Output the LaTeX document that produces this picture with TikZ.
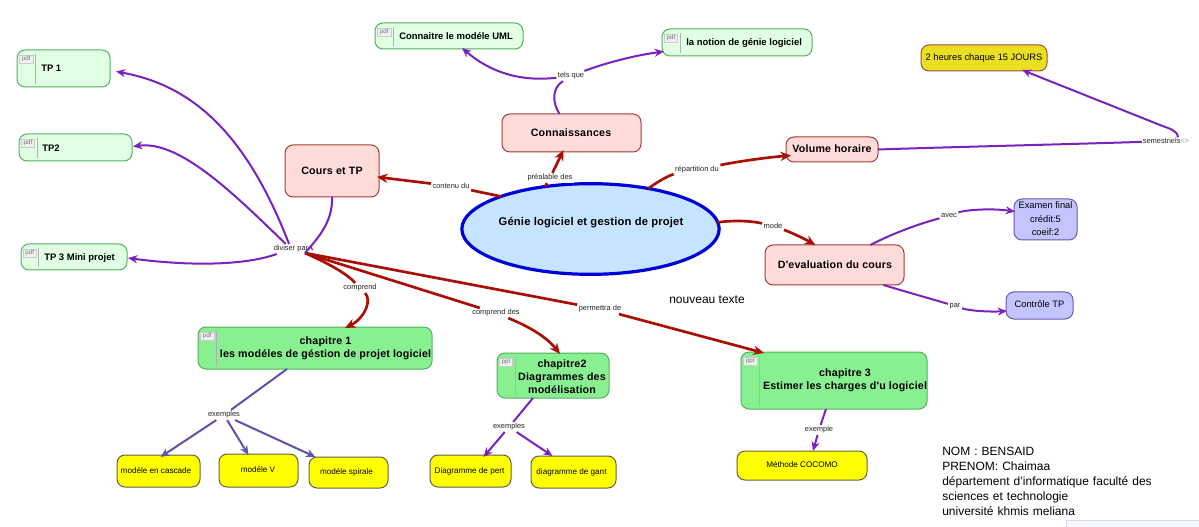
\documentclass[tikz,border=0pt]{standalone}
\usepackage{fontspec}
\setmainfont{Liberation Sans}
\newfontfamily\spacedb[LetterSpace=1.7]{Liberation Sans}
\usetikzlibrary{arrows.meta,calc,shapes.geometric}
\definecolor{purp}{HTML}{7A22BE}
\definecolor{dred}{HTML}{A90F05}
\definecolor{blv}{HTML}{5A55AC}
\definecolor{mint}{HTML}{E0FFE3}
\definecolor{mintl}{HTML}{55B060}
\definecolor{greenf}{HTML}{88F090}
\definecolor{pinkf}{HTML}{FFDCDA}
\definecolor{pinkl}{HTML}{A83A3A}
\definecolor{lilac}{HTML}{C4C4FF}
\definecolor{lilacl}{HTML}{6A5AA8}
\definecolor{ell}{HTML}{C4E4FF}
\definecolor{ylw}{HTML}{FFFF00}
\definecolor{ylwd}{HTML}{EBE020}
\tikzset{
  x=0.75pt,y=-0.75pt,
  base/.style={rectangle,rounded corners=6pt,line width=0.75pt,outer sep=0pt,inner sep=0pt,align=center},
  tabbed/.style={base,draw=mintl,fill=mint},
  chap/.style={base,draw=mintl,fill=greenf},
  pinkbox/.style={base,draw=pinkl,fill=pinkf},
  lilacbox/.style={base,draw=lilacl,fill=lilac},
  yellowbox/.style={base,draw=black!70!yellow,fill=ylw},
  goldbox/.style={base,draw=pinkl!70!gray,fill=ylwd},
  bt/.style={font=\fontsize{7.1}{9}\selectfont\bfseries,inner sep=0pt,align=center},
  pt/.style={font=\spacedb\fontsize{8}{9.8}\selectfont\bfseries,inner sep=0pt,align=center},
  smallt/.style={font=\fontsize{6.1}{8}\selectfont,inner sep=0pt},
  lbl/.style={font=\fontsize{5.6}{7}\selectfont,text=black!85,fill=white,fill opacity=0.85,text opacity=1,inner sep=1pt},
  plain/.style={font=\fontsize{9}{11.25}\selectfont,inner sep=0pt,align=left},
  midt/.style={font=\fontsize{7}{10.1}\selectfont,inner sep=0pt,align=center},
  purpc/.style={draw=purp,line width=1.5pt},
  purpa/.style={purpc,-{Stealth[length=7pt,width=6pt]}},
  redc/.style={draw=dred,line width=2pt},
  reda/.style={redc,-{Stealth[length=8pt,width=7pt]}},
  bluc/.style={draw=blv,line width=1.5pt},
  blua/.style={bluc,-{Stealth[length=7pt,width=6pt]}},
  tabt/.style={draw=black!20,fill=black!6,font=\fontsize{4.6}{5}\selectfont,text=black!55,inner sep=0.8pt,minimum width=10pt,minimum height=6pt},
}
\newcommand{\bx}[7]{%
  \pgfmathsetmacro\cxx{(#2+#4)/2}\pgfmathsetmacro\cyy{(#3+#5)/2}%
  \pgfmathsetmacro\wdd{(#4-#2)*0.75}\pgfmathsetmacro\htt{(#5-#3)*0.75}%
  \node[#6,minimum width=\wdd pt,minimum height=\htt pt] (#1) at (\cxx,\cyy) {#7};}
\newcommand{\tabmark}[3]{%
  \draw[black!30,line width=0.5pt] ($(#1.north west)+(#2,4)$) -- ($(#1.south west)+(#2,-3)$);
  \node[tabt] (#1tab) at ($(#1.north west)+(#2/2,9)$) {#3};}
\begin{document}
\begin{tikzpicture}
\useasboundingbox (0,0) rectangle (1199,527);
\fill[white] (0,0) rectangle (1199,527);
% bottom-right fragment
\path[fill=blue!3,draw=blue!15,line width=0.5pt] (1066,520.5) rectangle (1199,527);

% nodes
\bx{tpa}{17}{50}{110}{87}{tabbed}{}
\bx{tpb}{19}{134}{132}{161}{tabbed}{}
\bx{tpc}{21}{244}{127}{270}{tabbed}{}
\tabmark{tpa}{18.5}{pdf}\tabmark{tpb}{18}{pdf}\tabmark{tpc}{17.5}{pdf}
\node[bt,anchor=west] (tpat) at (41,68) {TP 1};
\node[bt,anchor=west] (tpbt) at (42,148) {TP2};
\node[bt,anchor=west] (tpct) at (44,258) {TP 3 Mini projet};

\bx{uml}{375}{23}{523}{49}{tabbed}{}
\bx{gl}{662}{29}{812}{56}{tabbed}{}
\tabmark{uml}{18.5}{pdf}\tabmark{gl}{18}{pdf}
\node[bt,anchor=west] (umlt) at (399,36.5) {Connaitre le modéle UML};
\node[bt,anchor=west] (glt) at (686,43) {la notion de génie logiciel};

\bx{cours}{285}{145}{379}{197}{pinkbox}{}
\node[pt] (courst) at (332,171) {Cours et TP};
\bx{conn}{502}{114}{641}{152}{pinkbox}{}
\node[pt] (connt) at (571,133) {Connaissances};
\bx{vol}{786}{137}{878}{162}{pinkbox}{}
\node[pt] (volt) at (832,149) {Volume horaire};
\bx{eval}{765}{245}{904}{285}{pinkbox}{}
\node[pt] (evalt) at (835,265) {D'evaluation du cours};

\node[ellipse,draw=blue!85!black,fill=ell,line width=2.4pt,minimum width=193pt,minimum height=68pt,inner sep=0pt,outer sep=0pt] (gen) at (590.5,229) {};
\node[pt,font=\spacedb\fontsize{8.4}{10}\selectfont\bfseries] (gent) at (591,223) {Génie logiciel et gestion de projet};

\bx{exam}{1014}{199}{1077}{240}{lilacbox}{}
\node[midt] (examt) at (1045.5,219) {Examen final\\crédit:5\\coeif:2};
\bx{ctp}{1006}{292}{1073}{319}{lilacbox}{}
\node[midt] (ctpt) at (1039.5,304.5) {Contrôle TP};
\bx{heures}{921}{45}{1047}{71}{goldbox}{}
\node[midt] (heurest) at (984,58) {2 heures chaque 15 JOURS};

\bx{cha}{198}{327}{432}{369}{chap}{}
\bx{chb}{497}{353}{609}{398}{chap}{}
\bx{chc}{741}{352}{927}{409}{chap}{}
\tabmark{cha}{18.5}{pdf}\tabmark{chb}{18}{ppt}\tabmark{chc}{18.5}{ppt}
\node[pt] (chat) at (325.5,348.5) {chapitre 1\\les modéles de géstion de projet logiciel};
\node[pt] (chbt) at (562,376.5) {chapitre2\\Diagrammes des\\modélisation};
\node[pt] (chct) at (845,380) {chapitre 3\\Estimer les charges d'u logiciel};

\bx{cas}{117}{455}{200}{487}{yellowbox}{}
\node[smallt] (cast) at (156,471) {modéle en cascade};
\bx{mv}{219}{454}{298}{487}{yellowbox}{}
\node[smallt] (mvt) at (258,470) {modéle V};
\bx{spi}{309}{457}{388}{488}{yellowbox}{}
\node[smallt] (spit) at (346.5,472) {modéle spirale};
\bx{pert}{430}{455}{511}{487}{yellowbox}{}
\node[smallt] (pertt) at (469.5,471) {Diagramme de pert};
\bx{gant}{531}{456}{616}{488}{yellowbox}{}
\node[smallt] (gantt) at (571.5,472) {diagramme de gant};
\bx{coco}{737}{451}{867}{480}{yellowbox}{}
\node[smallt] (cocot) at (802,465) {Méthode COCOMO};

\node[midt,font=\fontsize{9}{11}\selectfont] (nouv) at (707,300) {nouveau texte};
\node[plain,anchor=north west,text width=225pt] (auth) at (942,446.5) {NOM : BENSAID\\PRENOM: Chaimaa\\département d'informatique faculté des\\sciences et technologie\\université khmis meliana};

% connector labels
\node[lbl] (ldiv) at (291,249) {diviser par};
\node[lbl] (lcont) at (451,186) {contenu du};
\node[lbl] (lpre) at (550,178) {préalable des};
\node[lbl] (lrep) at (697,170) {répartition du};
\node[lbl] (lmode) at (773,226) {mode};
\node[lbl] (lavec) at (949,216) {avec};
\node[lbl] (lpar) at (955,306) {par};
\node[lbl] (ltel) at (571,76) {tels que};
\node[lbl,inner sep=0.5pt] (lsem) at (1166,141) {semestriels\textcolor{black!40}{<>}};
\node[lbl] (lcomp) at (360,288) {comprend};
\node[lbl] (lcdes) at (496,313) {comprend des};
\node[lbl] (lperm) at (600,309) {permettra de};
\node[lbl] (lexa) at (224,415) {exemples};
\node[lbl] (lexb) at (509,427) {exemples};
\node[lbl] (lexc) at (819,430) {exemple};

% red connectors
\draw[redc] (gen.160) -- (lcont);
\draw[reda] (lcont) -- ($(cours.east)+(-2,6)$);
\draw[redc] (gen.137) -- (lpre);
\draw[reda] (lpre) -- ($(conn.south)+(-8,-2)$);
\draw[redc] (gen.35) .. controls (660,180) and (670,175) .. (lrep);
\draw[reda] (lrep) .. controls (730,163) and (760,158) .. ($(vol.west)+(5,6)$);
\draw[redc] (gen.3) .. controls (735,220) and (752,221) .. (lmode);
\draw[reda] (lmode) .. controls (790,232) and (803,238) .. ($(eval.north)+(-19,0)$);
\coordinate (hub) at (305,253);
\draw[redc] (hub) .. controls (325,262) and (345,272) .. (lcomp);
\draw[reda] (lcomp) .. controls (372,300) and (365,318) .. ($(cha.north)+(30,1)$);
\draw[redc] (hub) -- (lcdes);
\draw[reda] (lcdes) .. controls (525,325) and (545,335) .. ($(chb.north)+(7,1)$);
\draw[redc] (hub) -- (lperm);
\draw[reda] (lperm) -- ($(chc.north west)+(23,1)$);
\draw[black!65,line width=1pt] ($(ldiv.east)+(0,-3)$) -- ($(ldiv.east)+(3,1)$);

% purple connectors
\draw[purpc] (cours.south) .. controls (333,222) and (318,238) .. (hub);
\draw[purpa] (ldiv) .. controls (245,130) and (190,85) .. ($(tpa.east)+(6,3)$);
\draw[purpa] (ldiv) .. controls (235,195) and (180,140) .. ($(tpb.east)+(1,-1)$);
\draw[purpa] (ldiv) .. controls (240,267) and (180,265) .. ($(tpc.east)+(1,1)$);
\draw[purpc] ($(conn.north)+(-12,0)$) .. controls (552,102) and (552,88) .. (ltel);
\draw[purpa] (ltel) .. controls (520,82) and (490,72) .. ($(uml.south)+(13,-1)$);
\draw[purpa] (ltel) .. controls (600,65) and (630,56) .. ($(gl.west)+(2,9)$);
\draw[purpc] (vol.east) .. controls (950,147) and (1080,144) .. (lsem);
\draw[purpa] ($(lsem.north)+(12,0)$) .. controls (1177,130) and (1170,129) .. (1160,125) -- ($(heures.south)+(38,-1)$);
\draw[purpc] ($(eval.north)+(36,0)$) .. controls (895,232) and (925,222) .. (lavec);
\draw[purpa] (lavec) .. controls (965,210) and (990,208) .. ($(exam.west)+(1,-8)$);
\draw[purpc] ($(eval.south)+(49,0)$) .. controls (910,293) and (935,300) .. (lpar);
\draw[purpa] (lpar) .. controls (970,311) and (990,312) .. ($(ctp.west)+(1,5.5)$);
\draw[purpc] ($(chb.south)+(-20,0)$) -- (lexb);
\draw[purpa] (lexb) -- ($(pert.north)+(13,2)$);
\draw[purpa] (lexb) -- ($(gant.north)+(-21,0)$);
\draw[purpc] ($(chc.south)+(-8,0)$) -- (lexc);
\draw[purpa] (lexc) -- ($(coco.north)+(11,0)$);

% blue connectors
\draw[bluc] ($(cha.south)+(-28,0)$) -- (lexa);
\draw[blua] (lexa) -- ($(cas.north)+(2,2)$);
\draw[blua] (lexa) -- ($(mv.north)+(-10,1)$);
\draw[blua] (lexa) -- ($(spi.north)+(-33,0)$);
\end{tikzpicture}
\end{document}
